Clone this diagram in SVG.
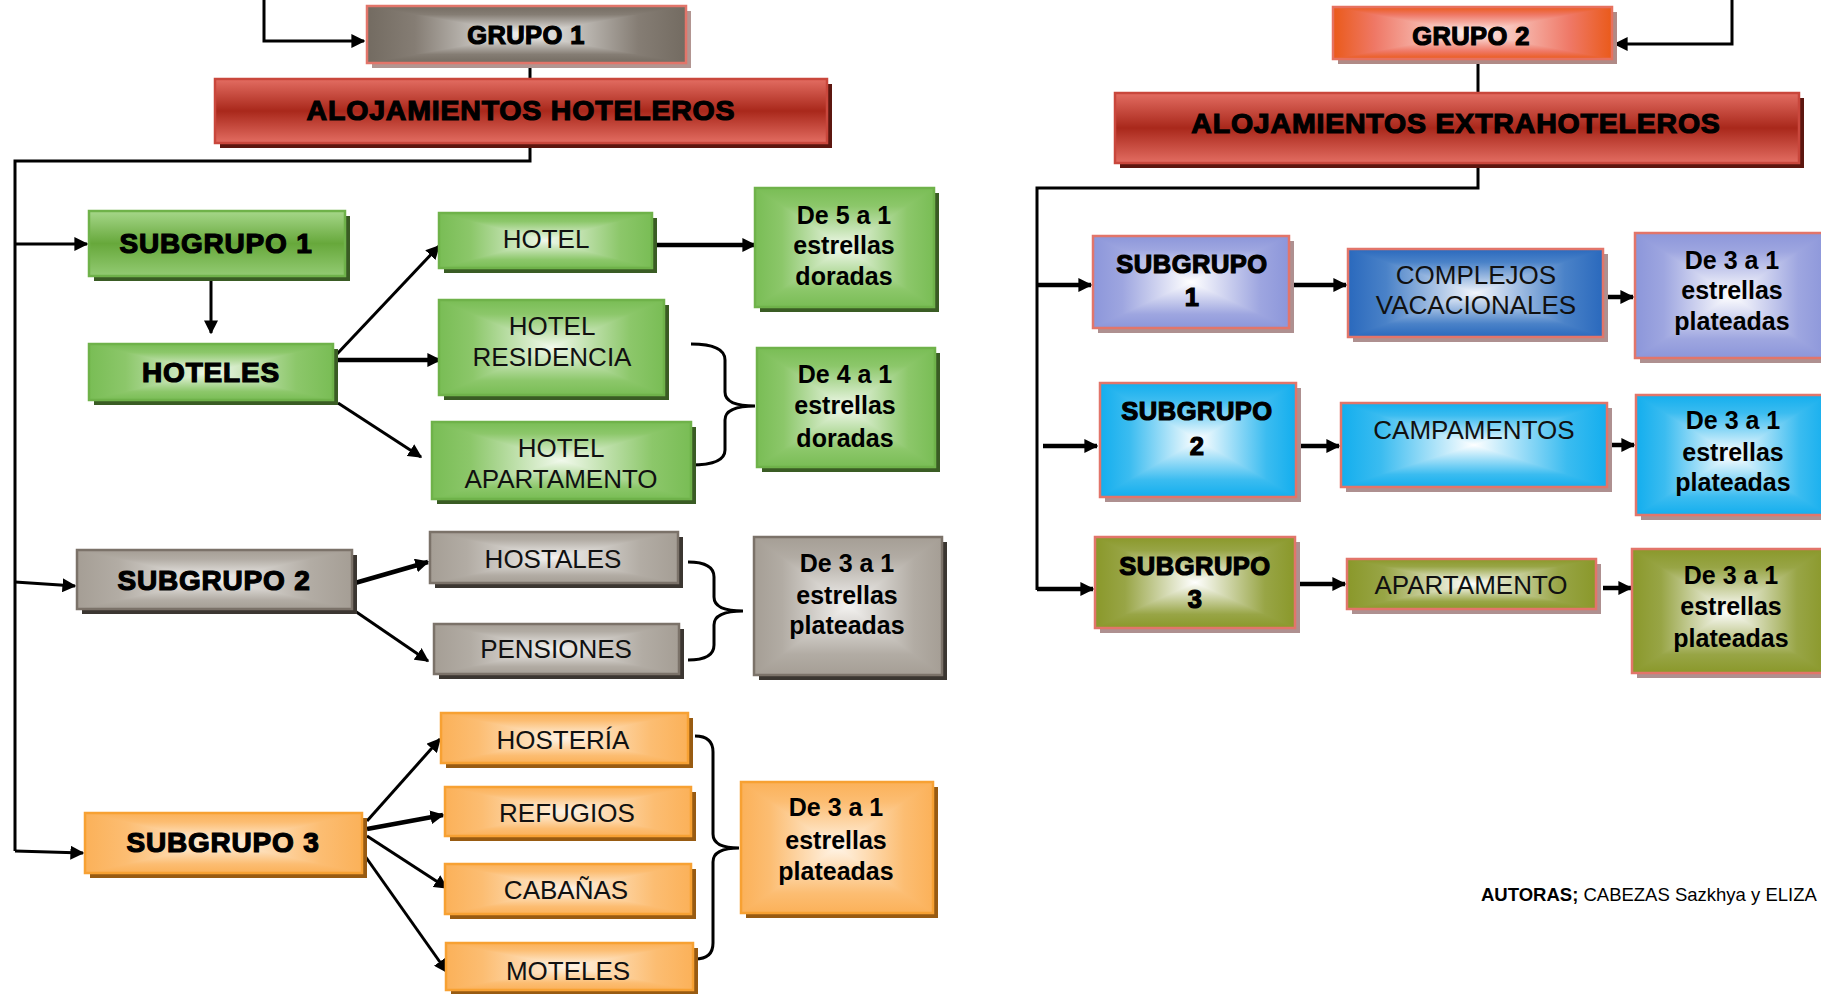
<svg xmlns="http://www.w3.org/2000/svg" width="1821" height="994" viewBox="0 0 1821 994">
<style>
text{font-family:"Liberation Sans",Arial,sans-serif;text-anchor:middle;fill:#000}
.hv{font-weight:700;stroke:#000;stroke-width:1.2}
.big{font-size:28.5px;letter-spacing:0.8px}
.sub{font-size:28px;letter-spacing:0.8px}
.grp{font-size:25.5px;letter-spacing:0.4px}
.rsub{font-size:25.5px;letter-spacing:0.5px}
.rg{font-weight:400;font-size:26px;fill:#111}
.st{font-weight:700;font-size:25px}
.bd{fill:none;stroke-width:2.5}
.con path,.con line{fill:none;stroke:#000;stroke-width:3}
.tk{stroke-width:4.5 !important}
.ar{marker-end:url(#ah)}
polygon{shape-rendering:crispEdges}
</style>
<defs>
<marker id="ah" viewBox="0 0 10 10" refX="9" refY="5" markerUnits="userSpaceOnUse" markerWidth="14" markerHeight="14" orient="auto"><path d="M0,0 L10,5 L0,10 z" fill="#000"/></marker>

<linearGradient id="gray1-L" gradientUnits="userSpaceOnUse" x1="0" y1="0" x2="50" y2="0"><stop offset="0" stop-color="#736b61"/><stop offset="0.3" stop-color="#857d74"/><stop offset="1" stop-color="#f6f6f4"/></linearGradient>
<linearGradient id="gray1-R" href="#gray1-L" x1="100" y1="0" x2="50" y2="0"/>
<linearGradient id="gray1-T" href="#gray1-L" x1="0" y1="0" x2="0" y2="50"/>
<linearGradient id="gray1-B" href="#gray1-L" x1="0" y1="100" x2="0" y2="50"/>

<linearGradient id="or2-L" gradientUnits="userSpaceOnUse" x1="0" y1="0" x2="50" y2="0"><stop offset="0" stop-color="#ea5a1a"/><stop offset="0.3" stop-color="#ef7866"/><stop offset="1" stop-color="#fdf3f1"/></linearGradient>
<linearGradient id="or2-R" href="#or2-L" x1="100" y1="0" x2="50" y2="0"/>
<linearGradient id="or2-T" href="#or2-L" x1="0" y1="0" x2="0" y2="50"/>
<linearGradient id="or2-B" href="#or2-L" x1="0" y1="100" x2="0" y2="50"/>

<linearGradient id="grn-L" gradientUnits="userSpaceOnUse" x1="0" y1="0" x2="50" y2="0"><stop offset="0" stop-color="#79bd55"/><stop offset="0.3" stop-color="#8cc76a"/><stop offset="1" stop-color="#f1f9ec"/></linearGradient>
<linearGradient id="grn-R" href="#grn-L" x1="100" y1="0" x2="50" y2="0"/>
<linearGradient id="grn-T" href="#grn-L" x1="0" y1="0" x2="0" y2="50"/>
<linearGradient id="grn-B" href="#grn-L" x1="0" y1="100" x2="0" y2="50"/>

<linearGradient id="gry-L" gradientUnits="userSpaceOnUse" x1="0" y1="0" x2="50" y2="0"><stop offset="0" stop-color="#a59e95"/><stop offset="0.3" stop-color="#b2aca4"/><stop offset="1" stop-color="#f3f2f0"/></linearGradient>
<linearGradient id="gry-R" href="#gry-L" x1="100" y1="0" x2="50" y2="0"/>
<linearGradient id="gry-T" href="#gry-L" x1="0" y1="0" x2="0" y2="50"/>
<linearGradient id="gry-B" href="#gry-L" x1="0" y1="100" x2="0" y2="50"/>

<linearGradient id="org-L" gradientUnits="userSpaceOnUse" x1="0" y1="0" x2="50" y2="0"><stop offset="0" stop-color="#fbb159"/><stop offset="0.3" stop-color="#fcbd72"/><stop offset="1" stop-color="#fff4e6"/></linearGradient>
<linearGradient id="org-R" href="#org-L" x1="100" y1="0" x2="50" y2="0"/>
<linearGradient id="org-T" href="#org-L" x1="0" y1="0" x2="0" y2="50"/>
<linearGradient id="org-B" href="#org-L" x1="0" y1="100" x2="0" y2="50"/>

<linearGradient id="lav-L" gradientUnits="userSpaceOnUse" x1="0" y1="0" x2="50" y2="0"><stop offset="0" stop-color="#8c96da"/><stop offset="0.3" stop-color="#9ea6e0"/><stop offset="1" stop-color="#ffffff"/></linearGradient>
<linearGradient id="lav-R" href="#lav-L" x1="100" y1="0" x2="50" y2="0"/>
<linearGradient id="lav-T" href="#lav-L" x1="0" y1="0" x2="0" y2="50"/>
<linearGradient id="lav-B" href="#lav-L" x1="0" y1="100" x2="0" y2="50"/>

<linearGradient id="blu-L" gradientUnits="userSpaceOnUse" x1="0" y1="0" x2="50" y2="0"><stop offset="0" stop-color="#2a69bd"/><stop offset="0.3" stop-color="#4a82c8"/><stop offset="1" stop-color="#f2f5fb"/></linearGradient>
<linearGradient id="blu-R" href="#blu-L" x1="100" y1="0" x2="50" y2="0"/>
<linearGradient id="blu-T" href="#blu-L" x1="0" y1="0" x2="0" y2="50"/>
<linearGradient id="blu-B" href="#blu-L" x1="0" y1="100" x2="0" y2="50"/>

<linearGradient id="cyn-L" gradientUnits="userSpaceOnUse" x1="0" y1="0" x2="50" y2="0"><stop offset="0" stop-color="#13aeee"/><stop offset="0.3" stop-color="#3bbcf0"/><stop offset="1" stop-color="#ffffff"/></linearGradient>
<linearGradient id="cyn-R" href="#cyn-L" x1="100" y1="0" x2="50" y2="0"/>
<linearGradient id="cyn-T" href="#cyn-L" x1="0" y1="0" x2="0" y2="50"/>
<linearGradient id="cyn-B" href="#cyn-L" x1="0" y1="100" x2="0" y2="50"/>

<linearGradient id="olv-L" gradientUnits="userSpaceOnUse" x1="0" y1="0" x2="50" y2="0"><stop offset="0" stop-color="#8a982a"/><stop offset="0.3" stop-color="#98a546"/><stop offset="1" stop-color="#ffffff"/></linearGradient>
<linearGradient id="olv-R" href="#olv-L" x1="100" y1="0" x2="50" y2="0"/>
<linearGradient id="olv-T" href="#olv-L" x1="0" y1="0" x2="0" y2="50"/>
<linearGradient id="olv-B" href="#olv-L" x1="0" y1="100" x2="0" y2="50"/>

<linearGradient id="red-V" x1="0" y1="0" x2="0" y2="1"><stop offset="0" stop-color="#e36d62"/><stop offset="0.5" stop-color="#a9281b"/><stop offset="1" stop-color="#e36d62"/></linearGradient>
<linearGradient id="grn-V" x1="0" y1="0" x2="0" y2="1"><stop offset="0" stop-color="#a6d78a"/><stop offset="0.5" stop-color="#67a83b"/><stop offset="1" stop-color="#93cb73"/></linearGradient>

<symbol id="rg-gray1" viewBox="0 0 100 100" preserveAspectRatio="none"><polygon points="0,0 100,0 50,50" fill="url(#gray1-T)"/><polygon points="0,100 100,100 50,50" fill="url(#gray1-B)"/><polygon points="0,0 0,100 50,50" fill="url(#gray1-L)"/><polygon points="100,0 100,100 50,50" fill="url(#gray1-R)"/></symbol>
<symbol id="rg-or2" viewBox="0 0 100 100" preserveAspectRatio="none"><polygon points="0,0 100,0 50,50" fill="url(#or2-T)"/><polygon points="0,100 100,100 50,50" fill="url(#or2-B)"/><polygon points="0,0 0,100 50,50" fill="url(#or2-L)"/><polygon points="100,0 100,100 50,50" fill="url(#or2-R)"/></symbol>
<symbol id="rg-grn" viewBox="0 0 100 100" preserveAspectRatio="none"><polygon points="0,0 100,0 50,50" fill="url(#grn-T)"/><polygon points="0,100 100,100 50,50" fill="url(#grn-B)"/><polygon points="0,0 0,100 50,50" fill="url(#grn-L)"/><polygon points="100,0 100,100 50,50" fill="url(#grn-R)"/></symbol>
<symbol id="rg-gry" viewBox="0 0 100 100" preserveAspectRatio="none"><polygon points="0,0 100,0 50,50" fill="url(#gry-T)"/><polygon points="0,100 100,100 50,50" fill="url(#gry-B)"/><polygon points="0,0 0,100 50,50" fill="url(#gry-L)"/><polygon points="100,0 100,100 50,50" fill="url(#gry-R)"/></symbol>
<symbol id="rg-org" viewBox="0 0 100 100" preserveAspectRatio="none"><polygon points="0,0 100,0 50,50" fill="url(#org-T)"/><polygon points="0,100 100,100 50,50" fill="url(#org-B)"/><polygon points="0,0 0,100 50,50" fill="url(#org-L)"/><polygon points="100,0 100,100 50,50" fill="url(#org-R)"/></symbol>
<symbol id="rg-lav" viewBox="0 0 100 100" preserveAspectRatio="none"><polygon points="0,0 100,0 50,50" fill="url(#lav-T)"/><polygon points="0,100 100,100 50,50" fill="url(#lav-B)"/><polygon points="0,0 0,100 50,50" fill="url(#lav-L)"/><polygon points="100,0 100,100 50,50" fill="url(#lav-R)"/></symbol>
<symbol id="rg-blu" viewBox="0 0 100 100" preserveAspectRatio="none"><polygon points="0,0 100,0 50,50" fill="url(#blu-T)"/><polygon points="0,100 100,100 50,50" fill="url(#blu-B)"/><polygon points="0,0 0,100 50,50" fill="url(#blu-L)"/><polygon points="100,0 100,100 50,50" fill="url(#blu-R)"/></symbol>
<symbol id="rg-cyn" viewBox="0 0 100 100" preserveAspectRatio="none"><polygon points="0,0 100,0 50,50" fill="url(#cyn-T)"/><polygon points="0,100 100,100 50,50" fill="url(#cyn-B)"/><polygon points="0,0 0,100 50,50" fill="url(#cyn-L)"/><polygon points="100,0 100,100 50,50" fill="url(#cyn-R)"/></symbol>
<symbol id="rg-olv" viewBox="0 0 100 100" preserveAspectRatio="none"><polygon points="0,0 100,0 50,50" fill="url(#olv-T)"/><polygon points="0,100 100,100 50,50" fill="url(#olv-B)"/><polygon points="0,0 0,100 50,50" fill="url(#olv-L)"/><polygon points="100,0 100,100 50,50" fill="url(#olv-R)"/></symbol>
</defs>

<rect width="1821" height="994" fill="#fff"/>

<g id="connectors" class="con">
<path class="ar" d="M264,0 V41 H364"/>
<path class="ar" d="M1732,0 V44 H1615"/>
<line x1="530" y1="63" x2="530" y2="80"/>
<line x1="1478" y1="59" x2="1478" y2="94"/>
<path d="M530,143 V161 H15 V851"/>
<path class="ar" d="M15,244 H87"/>
<path class="ar" d="M15,582 L75,586"/>
<path class="ar" d="M15,851 L83,853"/>
<path class="ar" d="M211,279 V333"/>
<path class="ar" d="M337,354 L439,246"/>
<path class="ar tk" d="M333,360 H440"/>
<path class="ar" d="M338,403 L421,457"/>
<path class="ar tk" d="M657,245 H755"/>
<path d="M691,344 Q725,344 725,360 L725,392 Q725,406 755,406 Q725,406 725,420 L725,450 Q725,465 691,465"/>
<path class="ar tk" d="M355,583 L428,562"/>
<path class="ar" d="M352,609 L428,661"/>
<path d="M688,562 Q714,562 714,577 L714,597 Q714,611 743,611 Q714,611 714,625 L714,645 Q714,660 688,660"/>
<path class="ar" d="M367,821 L440,739"/>
<path class="ar tk" d="M367,829 L443,815"/>
<path class="ar" d="M367,836 L447,888"/>
<path class="ar" d="M365,856 L447,972"/>
<path d="M695,736 Q713,736 713,752 L713,834 Q713,848 739,848 Q713,848 713,862 L713,943 Q713,959 695,959"/>
<path d="M1478,163 V188 H1037 V590"/>
<path class="ar tk" d="M1037,285 H1091"/>
<path class="ar tk" d="M1043,446 H1097"/>
<path class="ar tk" d="M1037,589 H1093"/>
<path class="ar tk" d="M1291,285 H1346"/>
<path class="ar tk" d="M1607,297 H1633"/>
<path class="ar tk" d="M1298,446 H1339"/>
<path class="ar tk" d="M1612,445 H1634"/>
<path class="ar tk" d="M1298,584 H1345"/>
<path class="ar tk" d="M1603,588 H1631"/>
</g>

<g id="grupo1"><rect x="372" y="11" width="319" height="57" fill="#b29591"/><use href="#rg-gray1" x="367" y="6" width="319" height="57"/><rect class="bd" x="367" y="6" width="319" height="57" stroke="#e2756a"/><text class="hv grp" x="526" y="44">GRUPO 1</text></g>

<g id="aloj-hoteleros"><rect x="220" y="84" width="612" height="64" fill="#5c160f"/><rect x="215" y="79" width="612" height="64" fill="url(#red-V)" stroke="#c9473c" stroke-width="2.5"/><text class="hv big" x="521" y="120">ALOJAMIENTOS HOTELEROS</text></g>

<g id="subgrupo1"><rect x="94" y="216" width="256" height="65" fill="#3a5c24"/><rect x="89" y="211" width="256" height="65" fill="url(#grn-V)" stroke="#6fb24a" stroke-width="2.5"/><text class="hv sub" x="216" y="253">SUBGRUPO 1</text></g>

<g id="hoteles"><rect x="94" y="349" width="244" height="56" fill="#3a5c24"/><use href="#rg-grn" x="89" y="344" width="244" height="56"/><rect class="bd" x="89" y="344" width="244" height="56" stroke="#6fb24a"/><text class="hv sub" x="211" y="382">HOTELES</text></g>

<g id="hotel"><rect x="444" y="218" width="213" height="55" fill="#3a5c24"/><use href="#rg-grn" x="439" y="213" width="213" height="55"/><rect class="bd" x="439" y="213" width="213" height="55" stroke="#6fb24a"/><text class="rg" x="546" y="248">HOTEL</text></g>

<g id="hotel-residencia"><rect x="444" y="305" width="225" height="95" fill="#3a5c24"/><use href="#rg-grn" x="439" y="300" width="225" height="95"/><rect class="bd" x="439" y="300" width="225" height="95" stroke="#6fb24a"/><text class="rg" x="552" y="335">HOTEL</text><text class="rg" x="552" y="366">RESIDENCIA</text></g>

<g id="hotel-apartamento"><rect x="437" y="427" width="259" height="77" fill="#3a5c24"/><use href="#rg-grn" x="432" y="422" width="259" height="77"/><rect class="bd" x="432" y="422" width="259" height="77" stroke="#6fb24a"/><text class="rg" x="561" y="457">HOTEL</text><text class="rg" x="561" y="488">APARTAMENTO</text></g>

<g id="de5"><rect x="760" y="193" width="179" height="119" fill="#3a5c24"/><use href="#rg-grn" x="755" y="188" width="179" height="119"/><rect class="bd" x="755" y="188" width="179" height="119" stroke="#6fb24a"/><text class="st" x="844" y="224">De 5 a 1</text><text class="st" x="844" y="254">estrellas</text><text class="st" x="844" y="285">doradas</text></g>

<g id="de4"><rect x="762" y="353" width="178" height="119" fill="#3a5c24"/><use href="#rg-grn" x="757" y="348" width="178" height="119"/><rect class="bd" x="757" y="348" width="178" height="119" stroke="#6fb24a"/><text class="st" x="845" y="383">De 4 a 1</text><text class="st" x="845" y="414">estrellas</text><text class="st" x="845" y="447">doradas</text></g>

<g id="subgrupo2"><rect x="82" y="555" width="275" height="59" fill="#3b3631"/><use href="#rg-gry" x="77" y="550" width="275" height="59"/><rect class="bd" x="77" y="550" width="275" height="59" stroke="#7b7269"/><text class="hv sub" x="214" y="590">SUBGRUPO 2</text></g>

<g id="hostales"><rect x="435" y="537" width="248" height="51" fill="#3b3631"/><use href="#rg-gry" x="430" y="532" width="248" height="51"/><rect class="bd" x="430" y="532" width="248" height="51" stroke="#7b7269"/><text class="rg" x="553" y="568">HOSTALES</text></g>

<g id="pensiones"><rect x="439" y="629" width="245" height="50" fill="#3b3631"/><use href="#rg-gry" x="434" y="624" width="245" height="50"/><rect class="bd" x="434" y="624" width="245" height="50" stroke="#7b7269"/><text class="rg" x="556" y="658">PENSIONES</text></g>

<g id="de3-gris"><rect x="759" y="542" width="188" height="138" fill="#3b3631"/><use href="#rg-gry" x="754" y="537" width="188" height="138"/><rect class="bd" x="754" y="537" width="188" height="138" stroke="#7b7269"/><text class="st" x="847" y="572">De 3 a 1</text><text class="st" x="847" y="604">estrellas</text><text class="st" x="847" y="634">plateadas</text></g>

<g id="subgrupo3"><rect x="90" y="818" width="277" height="60" fill="#985b12"/><use href="#rg-org" x="85" y="813" width="277" height="60"/><rect class="bd" x="85" y="813" width="277" height="60" stroke="#f7a133"/><text class="hv sub" x="223" y="852">SUBGRUPO 3</text></g>

<g id="hosteria"><rect x="446" y="718" width="247" height="50" fill="#985b12"/><use href="#rg-org" x="441" y="713" width="247" height="50"/><rect class="bd" x="441" y="713" width="247" height="50" stroke="#f7a133"/><text class="rg" x="563" y="749">HOSTERÍA</text></g>

<g id="refugios"><rect x="450" y="792" width="246" height="49" fill="#985b12"/><use href="#rg-org" x="445" y="787" width="246" height="49"/><rect class="bd" x="445" y="787" width="246" height="49" stroke="#f7a133"/><text class="rg" x="567" y="822">REFUGIOS</text></g>

<g id="cabanas"><rect x="450" y="869" width="246" height="50" fill="#985b12"/><use href="#rg-org" x="445" y="864" width="246" height="50"/><rect class="bd" x="445" y="864" width="246" height="50" stroke="#f7a133"/><text class="rg" x="566" y="899">CABAÑAS</text></g>

<g id="moteles"><rect x="451" y="948" width="247" height="47" fill="#985b12"/><use href="#rg-org" x="446" y="943" width="247" height="47"/><rect class="bd" x="446" y="943" width="247" height="47" stroke="#f7a133"/><text class="rg" x="568" y="980">MOTELES</text></g>

<g id="de3-naranja"><rect x="746" y="787" width="192" height="131" fill="#985b12"/><use href="#rg-org" x="741" y="782" width="192" height="131"/><rect class="bd" x="741" y="782" width="192" height="131" stroke="#f7a133"/><text class="st" x="836" y="816">De 3 a 1</text><text class="st" x="836" y="849">estrellas</text><text class="st" x="836" y="880">plateadas</text></g>

<g id="grupo2"><rect x="1338" y="12" width="279" height="52" fill="#b08a86"/><use href="#rg-or2" x="1333" y="7" width="279" height="52"/><rect class="bd" x="1333" y="7" width="279" height="52" stroke="#e6715f"/><text class="hv grp" x="1471" y="45">GRUPO 2</text></g>

<g id="aloj-extrahoteleros"><rect x="1120" y="98" width="684" height="70" fill="#5c160f"/><rect x="1115" y="93" width="684" height="70" fill="url(#red-V)" stroke="#c9473c" stroke-width="2.5"/><text class="hv big" x="1456" y="133">ALOJAMIENTOS EXTRAHOTELEROS</text></g>

<g id="r-subgrupo1"><rect x="1098" y="241" width="196" height="92" fill="#ae9090"/><use href="#rg-lav" x="1093" y="236" width="196" height="92"/><rect class="bd" x="1093" y="236" width="196" height="92" stroke="#e2756a"/><text class="hv rsub" x="1192" y="273">SUBGRUPO</text><text class="hv rsub" x="1192" y="306">1</text></g>

<g id="complejos"><rect x="1353" y="254" width="255" height="88" fill="#ae9090"/><use href="#rg-blu" x="1348" y="249" width="255" height="88"/><rect class="bd" x="1348" y="249" width="255" height="88" stroke="#e2756a"/><text class="rg" x="1476" y="284">COMPLEJOS</text><text class="rg" x="1476" y="314">VACACIONALES</text></g>

<g id="r-de3-1"><rect x="1640" y="238" width="192" height="125" fill="#ae9090"/><use href="#rg-lav" x="1635" y="233" width="192" height="125"/><rect class="bd" x="1635" y="233" width="192" height="125" stroke="#e2756a"/><text class="st" x="1732" y="269">De 3 a 1</text><text class="st" x="1732" y="299">estrellas</text><text class="st" x="1732" y="330">plateadas</text></g>

<g id="r-subgrupo2"><rect x="1105" y="388" width="196" height="114" fill="#ae9090"/><use href="#rg-cyn" x="1100" y="383" width="196" height="114"/><rect class="bd" x="1100" y="383" width="196" height="114" stroke="#e2756a"/><text class="hv rsub" x="1197" y="420">SUBGRUPO</text><text class="hv rsub" x="1197" y="455">2</text></g>

<g id="campamentos"><rect x="1346" y="408" width="266" height="84" fill="#ae9090"/><use href="#rg-cyn" x="1341" y="403" width="266" height="84"/><rect class="bd" x="1341" y="403" width="266" height="84" stroke="#e2756a"/><text class="rg" x="1474" y="439">CAMPAMENTOS</text></g>

<g id="r-de3-2"><rect x="1641" y="400" width="192" height="120" fill="#ae9090"/><use href="#rg-cyn" x="1636" y="395" width="192" height="120"/><rect class="bd" x="1636" y="395" width="192" height="120" stroke="#e2756a"/><text class="st" x="1733" y="429">De 3 a 1</text><text class="st" x="1733" y="461">estrellas</text><text class="st" x="1733" y="491">plateadas</text></g>

<g id="r-subgrupo3"><rect x="1100" y="542" width="200" height="91" fill="#ae9090"/><use href="#rg-olv" x="1095" y="537" width="200" height="91"/><rect class="bd" x="1095" y="537" width="200" height="91" stroke="#e2756a"/><text class="hv rsub" x="1195" y="575">SUBGRUPO</text><text class="hv rsub" x="1195" y="608">3</text></g>

<g id="r-apartamento"><rect x="1352" y="564" width="249" height="50" fill="#ae9090"/><use href="#rg-olv" x="1347" y="559" width="249" height="50"/><rect class="bd" x="1347" y="559" width="249" height="50" stroke="#e2756a"/><text class="rg" x="1471" y="594">APARTAMENTO</text></g>

<g id="r-de3-3"><rect x="1637" y="554" width="194" height="124" fill="#ae9090"/><use href="#rg-olv" x="1632" y="549" width="194" height="124"/><rect class="bd" x="1632" y="549" width="194" height="124" stroke="#e2756a"/><text class="st" x="1731" y="584">De 3 a 1</text><text class="st" x="1731" y="615">estrellas</text><text class="st" x="1731" y="647">plateadas</text></g>

<g id="autoras"><text x="1481" y="901" font-size="18.5" style="text-anchor:start"><tspan font-weight="700">AUTORAS;</tspan> CABEZAS Sazkhya y ELIZA</text></g>
</svg>
